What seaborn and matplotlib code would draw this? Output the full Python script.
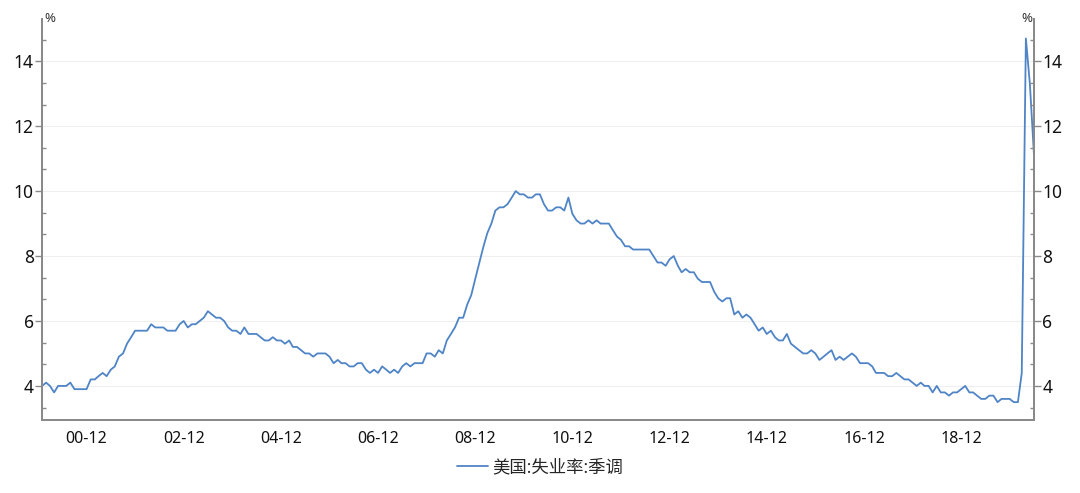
import pandas as pd
import numpy as np
import matplotlib
matplotlib.use('Agg')
import matplotlib.pyplot as plt
import matplotlib.dates as mdates
from matplotlib.ticker import MultipleLocator
import seaborn as sns

sns.set_style("white")
plt.rcParams['font.family'] = ['Noto Sans', 'Noto Sans CJK SC', 'DejaVu Sans']

# ─────────────────────────────────────────────
# DATA: US unemployment rate, SA, monthly 2000-01 .. 2020-06
# ─────────────────────────────────────────────
series_name = "美国:失业率:季调"
start_month = "2000-01-01"
rate = [
    4.0, 4.1, 4.0, 3.8, 4.0, 4.0, 4.0, 4.1, 3.9, 3.9, 3.9, 3.9,   # 2000
    4.2, 4.2, 4.3, 4.4, 4.3, 4.5, 4.6, 4.9, 5.0, 5.3, 5.5, 5.7,   # 2001
    5.7, 5.7, 5.7, 5.9, 5.8, 5.8, 5.8, 5.7, 5.7, 5.7, 5.9, 6.0,   # 2002
    5.8, 5.9, 5.9, 6.0, 6.1, 6.3, 6.2, 6.1, 6.1, 6.0, 5.8, 5.7,   # 2003
    5.7, 5.6, 5.8, 5.6, 5.6, 5.6, 5.5, 5.4, 5.4, 5.5, 5.4, 5.4,   # 2004
    5.3, 5.4, 5.2, 5.2, 5.1, 5.0, 5.0, 4.9, 5.0, 5.0, 5.0, 4.9,   # 2005
    4.7, 4.8, 4.7, 4.7, 4.6, 4.6, 4.7, 4.7, 4.5, 4.4, 4.5, 4.4,   # 2006
    4.6, 4.5, 4.4, 4.5, 4.4, 4.6, 4.7, 4.6, 4.7, 4.7, 4.7, 5.0,   # 2007
    5.0, 4.9, 5.1, 5.0, 5.4, 5.6, 5.8, 6.1, 6.1, 6.5, 6.8, 7.3,   # 2008
    7.8, 8.3, 8.7, 9.0, 9.4, 9.5, 9.5, 9.6, 9.8, 10.0, 9.9, 9.9,  # 2009
    9.8, 9.8, 9.9, 9.9, 9.6, 9.4, 9.4, 9.5, 9.5, 9.4, 9.8, 9.3,   # 2010
    9.1, 9.0, 9.0, 9.1, 9.0, 9.1, 9.0, 9.0, 9.0, 8.8, 8.6, 8.5,   # 2011
    8.3, 8.3, 8.2, 8.2, 8.2, 8.2, 8.2, 8.0, 7.8, 7.8, 7.7, 7.9,   # 2012
    8.0, 7.7, 7.5, 7.6, 7.5, 7.5, 7.3, 7.2, 7.2, 7.2, 6.9, 6.7,   # 2013
    6.6, 6.7, 6.7, 6.2, 6.3, 6.1, 6.2, 6.1, 5.9, 5.7, 5.8, 5.6,   # 2014
    5.7, 5.5, 5.4, 5.4, 5.6, 5.3, 5.2, 5.1, 5.0, 5.0, 5.1, 5.0,   # 2015
    4.8, 4.9, 5.0, 5.1, 4.8, 4.9, 4.8, 4.9, 5.0, 4.9, 4.7, 4.7,   # 2016
    4.7, 4.6, 4.4, 4.4, 4.4, 4.3, 4.3, 4.4, 4.3, 4.2, 4.2, 4.1,   # 2017
    4.0, 4.1, 4.0, 4.0, 3.8, 4.0, 3.8, 3.8, 3.7, 3.8, 3.8, 3.9,   # 2018
    4.0, 3.8, 3.8, 3.7, 3.6, 3.6, 3.7, 3.7, 3.5, 3.6, 3.6, 3.6,   # 2019
    3.5, 3.5, 4.4, 14.7, 13.3, 11.1,                              # 2020
]
y_ticks = [4, 6, 8, 10, 12, 14]

df = pd.DataFrame({
    "date": pd.date_range(start_month, periods=len(rate), freq="MS"),
    "rate": rate,
})

LINE_COLOR = "#4f84c6"
AXIS_COLOR = "#8a8a8a"

# ─────────────────────────────────────────────
# PLOT
# ─────────────────────────────────────────────
fig = plt.figure(figsize=(10.8, 4.93), dpi=100)
ax = fig.add_axes([42 / 1080, 73 / 493, 992 / 1080, 401 / 493])

sns.lineplot(data=df, x="date", y="rate", ax=ax, color=LINE_COLOR,
             linewidth=1.3, label=series_name, legend=False)

ax.set_xlim(df["date"].iloc[0], df["date"].iloc[-1])
ax.set_ylim(2.95, 15.3)
ax.set_xlabel(""); ax.set_ylabel("")

ax.xaxis.set_major_locator(mdates.YearLocator(base=2, month=12, day=1))
ax.xaxis.set_minor_locator(mdates.YearLocator(base=1, month=12, day=1))
ax.xaxis.set_major_formatter(mdates.DateFormatter('%y-%m'))
ax.set_yticks(y_ticks)
ax.yaxis.set_minor_locator(MultipleLocator(2 / 3))
ax.grid(axis='y', color='#efefef', linewidth=0.8)

ax2 = ax.twinx()
ax2.set_ylim(ax.get_ylim())
ax2.set_yticks(y_ticks)
ax2.yaxis.set_minor_locator(MultipleLocator(2 / 3))

for a in (ax, ax2):
    for side, sp in a.spines.items():
        sp.set_color(AXIS_COLOR)
        sp.set_linewidth(1.4)
    a.spines['top'].set_visible(False)
    a.tick_params(axis='y', which='major', direction='out', length=5, width=1,
                  color=AXIS_COLOR, labelsize=12.5, labelcolor='#111111', pad=1)
    a.tick_params(axis='y', which='minor', direction='in', length=3, width=1,
                  color=AXIS_COLOR)
ax.tick_params(axis='x', which='major', direction='out', length=5, width=1,
               color=AXIS_COLOR, labelsize=11.5, labelcolor='#111111', pad=3)
ax.tick_params(axis='x', which='minor', direction='out', length=3, width=1,
               color=AXIS_COLOR)
ax.tick_params(axis='y', which='both', left=True, right=False)
ax2.tick_params(axis='y', which='both', left=False, right=True)

ax.text(0.002, 1.0, "%", transform=ax.transAxes, fontsize=9.5, fontweight='bold',
        color='#333333', ha='left', va='center')
ax2.text(0.998, 1.0, "%", transform=ax2.transAxes, fontsize=9.5, fontweight='bold',
         color='#333333', ha='right', va='center')

fig.legend(handles=ax.get_lines()[:1], labels=[series_name], loc='center',
           bbox_to_anchor=(0.5, (493 - 467) / 493), frameon=False, fontsize=12.5,
           handlelength=1.8, handletextpad=0.2)

plt.savefig("out.png", dpi=100)
plt.close()
